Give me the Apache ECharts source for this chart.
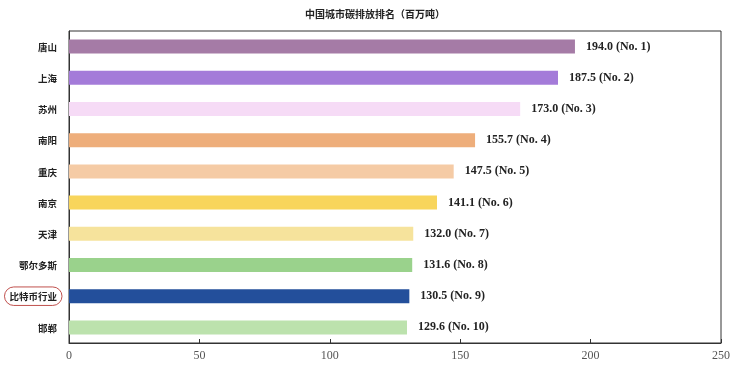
<!DOCTYPE html>
<html><head><meta charset="utf-8">
<script src="https://cdn.jsdelivr.net/npm/echarts@6/dist/echarts.min.js"></script>
<style>html,body{margin:0;padding:0;background:#fff}#c{width:750px;height:366px}</style>
</head><body><div id="c"></div>
<script>
var titleText = '中国城市碳排放排名（百万吨）';
var categories = ['唐山','上海','苏州','南阳','重庆','南京','天津','鄂尔多斯','比特币行业','邯郸'];
var values = [194.0, 187.5, 173.0, 155.7, 147.5, 141.1, 132.0, 131.6, 130.5, 129.6];
var ranks = [1,2,3,4,5,6,7,8,9,10];
var highlighted = '比特币行业';
var xTicks = [0, 50, 100, 150, 200, 250];
var barColors = ['#a57ba6','#a47bd9','#f6dbf6','#eeae7b','#f5cba5','#f8d55c','#f6e39c','#9ad28c','#234f9b','#bce2ad'];

var chart = echarts.init(document.getElementById('c'), null, {renderer:'canvas'});
var labelBase = {fontSize: 9.5, fontWeight: 'bold', color: '#222', fontFamily: 'Noto Sans CJK SC', padding: [5, 5, 4, 5]};
chart.setOption({
  animation: false,
  backgroundColor: '#fff',
  title: {
    text: titleText, left: 'center', top: 4,
    textStyle: {fontSize: 10, fontWeight: 'bold', color: '#222', fontFamily: 'Noto Sans CJK SC'}
  },
  grid: {left: 69, top: 31, right: 29, bottom: 23, show: true, borderColor: '#333', borderWidth: 1, backgroundColor: 'transparent'},
  xAxis: {
    type: 'value', min: xTicks[0], max: xTicks[xTicks.length-1], interval: 50,
    axisLine: {show: true, lineStyle: {color: '#333', width: 1}},
    axisTick: {show: true, inside: true, length: 4, lineStyle: {color: '#333'}},
    splitLine: {show: false},
    axisLabel: {fontFamily: 'Liberation Serif', fontSize: 12, color: '#555', margin: 7}
  },
  yAxis: {
    type: 'category', data: categories, inverse: true,
    axisLine: {show: true, lineStyle: {color: '#333', width: 1}},
    axisTick: {show: false},
    axisLabel: {
      margin: 7, fontSize: 9.5, fontWeight: 'bold', color: '#222', fontFamily: 'Noto Sans CJK SC',
      formatter: function (v) { return v === highlighted ? '{c|' + v + '}' : '{n|' + v + '}'; },
      rich: {
        n: labelBase,
        c: Object.assign({}, labelBase, {borderColor: '#c0504d', borderWidth: 1, borderRadius: 12})
      }
    }
  },
  series: [{
    type: 'bar', barWidth: 14,
    data: values.map(function (v, i) { return {value: v, itemStyle: {color: barColors[i]}}; }),
    label: {
      show: true, position: 'right', distance: 11,
      fontFamily: 'Liberation Serif', fontWeight: 'bold', fontSize: 12, color: '#222',
      formatter: function (p) { return p.value.toFixed(1) + ' (No. ' + ranks[p.dataIndex] + ')'; }
    }
  }]
});
</script></body></html>
